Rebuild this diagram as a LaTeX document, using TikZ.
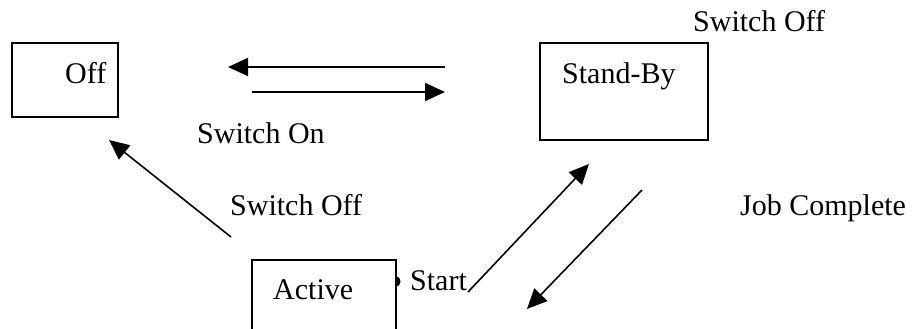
\documentclass[tikz,border=0pt]{standalone}
\usepackage{fontspec}
\setmainfont{Liberation Serif}
\usetikzlibrary{arrows.meta}
\begin{document}
\begin{tikzpicture}[x=1pt,y=-1pt,
  boxst/.style={draw,line width=2pt,inner sep=0pt},
  lbl/.style={anchor=base west,inner sep=0pt,font=\fontsize{30}{36}\selectfont},
  conn/.style={line width=1.6pt,-{Triangle[length=20pt,width=18pt]}}]
\useasboundingbox (0,0) rectangle (918,329);
\clip (0,0) rectangle (918,329);
% boxes
\node[boxst,minimum width=106pt,minimum height=74pt] (offbox) at (65,80) {};
\node[boxst,minimum width=168pt,minimum height=97pt] (sbbox) at (624,91.5) {};
\node[boxst,minimum width=144pt,minimum height=120pt] (actbox) at (324,320) {};
% box texts
\node[lbl] (offtxt) at (65,83) {Off};
\node[lbl] (sbtxt) at (562,83) {Stand-By};
\node[lbl] (acttxt) at (273,299) {Active};
% labels
\node[lbl] (swofftop) at (693,32) {Switch Off};
\node[lbl] (swon) at (197,143) {Switch On};
\node[lbl] (swoffmid) at (230,215) {Switch Off};
\node[lbl] (jobc) at (740,215) {Job Complete};
\node[lbl] (start) at (410,290) {Start};
% small mark
\fill (396,276) .. controls (402,277) and (402,286) .. (396,287) -- cycle;
% connector endpoints
\coordinate (a1s) at (445,67);
\coordinate (a1e) at (228,67);
\coordinate (a2s) at (252,92);
\coordinate (a2e) at (445,92);
\coordinate (a3s) at (231,237);
\coordinate (a3e) at (109,140);
\coordinate (a4s) at (468,292);
\coordinate (a4e) at (589,164);
\coordinate (a5s) at (642,190);
\coordinate (a5e) at (527,309);
\draw[conn] (a1s) -- (a1e);
\draw[conn] (a2s) -- (a2e);
\draw[conn] (a3s) -- (a3e);
\draw[conn] (a4s) -- (a4e);
\draw[conn] (a5s) -- (a5e);
\end{tikzpicture}
\end{document}
